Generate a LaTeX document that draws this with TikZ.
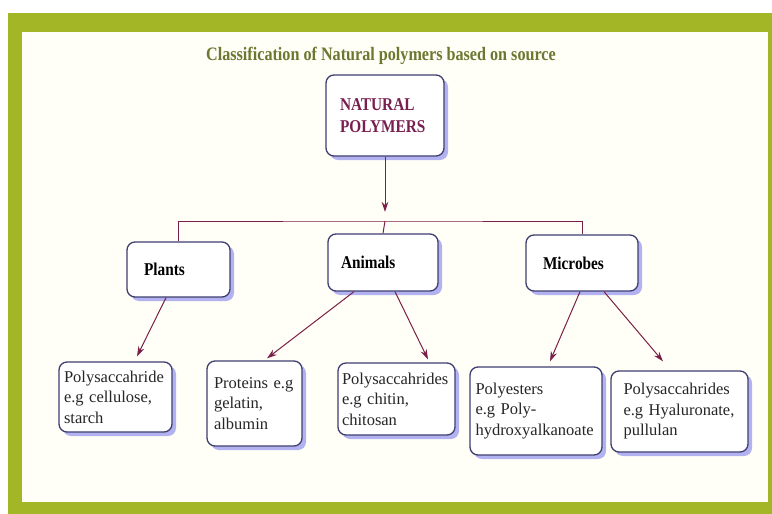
\documentclass[tikz,border=0pt]{standalone}
\usepackage{fontspec}
\setmainfont{Liberation Serif}
\newfontfamily\condensed{Liberation Serif}[FakeStretch=0.85]
\usetikzlibrary{arrows.meta, shadows}
\definecolor{framegreen}{RGB}{163, 182, 38}
\definecolor{papercream}{RGB}{255, 255, 247}
\definecolor{titleolive}{RGB}{108, 120, 48}
\definecolor{linemaroon}{RGB}{122, 32, 72}
\definecolor{namemaroon}{RGB}{120, 30, 80}
\definecolor{boxslate}{RGB}{62, 62, 112}
\definecolor{shadowlav}{RGB}{178, 178, 240}

\begin{document}
\begin{tikzpicture}[x=1pt, y=-1pt,
  box/.style={draw=boxslate, fill=white, line width=1.3pt, rounded corners=8pt, align=left, text=black!85, font=\fontsize{16.5}{20.5}\selectfont, drop shadow={shadow xshift=4pt, shadow yshift=-4pt, fill=shadowlav, opacity=1}},
  source/.style={box, text=black, font=\condensed\bfseries\fontsize{18}{22}\selectfont},
  link/.style={line width=1pt, draw=linemaroon},
  arrow/.style={link, -{Stealth[length=10pt, width=6.5pt]}},
]
  % Frame
  \fill[white] (0,0) rectangle (772,514);
  \fill[framegreen] (8,13) rectangle (772,514);
  \fill[papercream] (22,32) rectangle (768,502);

  % Title
  \node[font=\condensed\bfseries\fontsize{19}{22}\selectfont, text=titleolive] (title) at (381,56) {Classification of Natural polymers based on source};

  % Nodes
  \node[source, text=namemaroon, minimum width=118pt, minimum height=81pt, inner xsep=14pt, text width=90pt] (np) at (385,115.5) {NATURAL\\POLYMERS};

  \node[source, minimum width=103pt, minimum height=55pt, inner xsep=17pt, text width=69pt] (plants) at (178.5,269.5) {Plants};
  \node[source, minimum width=110pt, minimum height=57pt, inner xsep=13pt, text width=84pt] (animals) at (383,262.5) {Animals};
  \node[source, minimum width=112pt, minimum height=56pt, inner xsep=17pt, text width=78pt] (microbes) at (582,263) {Microbes};

  \node[box, minimum width=113pt, minimum height=70pt, inner xsep=5pt, text width=103pt] (cellulose) at (115.5,397) {Polysaccahride\\e.g cellulose,\\starch};
  \node[box, minimum width=95pt, minimum height=85pt, inner xsep=7pt, text width=81pt] (proteins) at (254.5,403.5) {Proteins e.g\\gelatin,\\albumin};
  \node[box, minimum width=117pt, minimum height=72pt, inner xsep=4pt, text width=109pt] (chitin) at (396.5,399) {Polysaccahrides\\e.g chitin,\\chitosan};
  \node[box, minimum width=132pt, minimum height=88pt, inner xsep=5.5pt, text width=121pt] (polyesters) at (536,411) {Polyesters\\e.g Poly-\\hydroxyalkanoate};
  \node[box, minimum width=137pt, minimum height=81pt, inner xsep=12.5pt, text width=112pt] (hyaluronate) at (679.5,411.5) {Polysaccahrides\\e.g Hyaluronate,\\pullulan};

  % Connectors
  \coordinate (bus) at (385,221);
  \draw[arrow, shorten >=9pt] (np.south) -- (np.south |- bus);
  \draw[link] (plants.north) |- (bus) -| (microbes.north);
  \draw[link] (bus) -- (animals.north);

  \draw[arrow] ([xshift=-12.5pt]plants.south) -- ([xshift=21.5pt, yshift=5pt]cellulose.north);
  \draw[arrow] ([xshift=-29pt]animals.south) -- ([xshift=12.5pt, yshift=2pt]proteins.north);
  \draw[arrow] ([xshift=12pt]animals.south) -- ([xshift=31.5pt, yshift=3pt]chitin.north);
  \draw[arrow] ([xshift=-2pt]microbes.south) -- ([xshift=14pt, yshift=5pt]polyesters.north);
  \draw[arrow] ([xshift=22pt]microbes.south) -- ([xshift=-16.5pt, yshift=9pt]hyaluronate.north);
\end{tikzpicture}
\end{document}
